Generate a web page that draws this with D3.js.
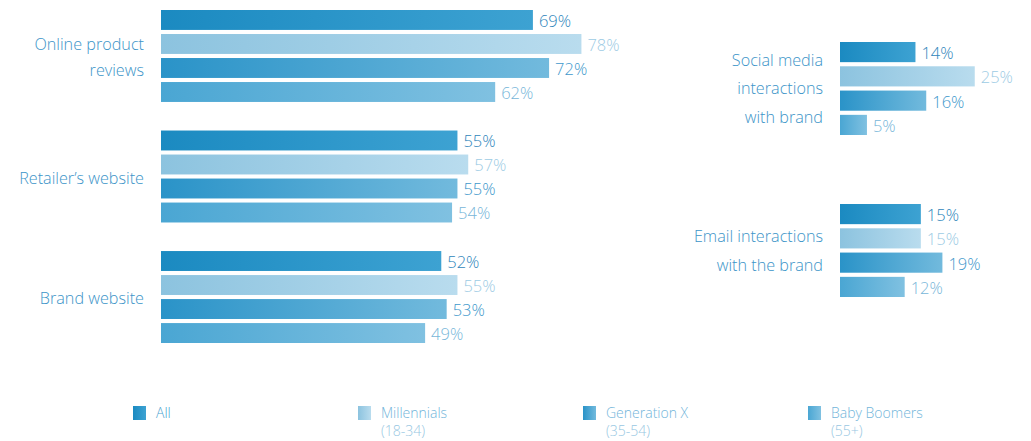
<!DOCTYPE html>
<html><head><meta charset="utf-8">
<script src="https://cdn.jsdelivr.net/npm/d3@7"></script>
<style>body{margin:0;background:#fff;}svg{display:block;font-family:"Open Sans",sans-serif;font-weight:300;}</style>
</head><body><svg id="c" width="1031" height="441"></svg>
<script>
const series = ["All", "Millennials", "Generation X", "Baby Boomers"];
const seriesSub = ["", "(18-34)", "(35-54)", "(55+)"];
const leftCategories = ["Online product reviews", "Retailer’s website", "Brand website"];
const leftLabelLines = [["Online product", "reviews"], ["Retailer’s website"], ["Brand website"]];
const leftValues = [
  [69, 78, 72, 62],
  [55, 57, 55, 54],
  [52, 55, 53, 49]
];
const rightCategories = ["Social media interactions with brand", "Email interactions with the brand"];
const rightLabelLines = [["Social media", "interactions", "with brand"], ["Email interactions", "with the brand"]];
const rightValues = [
  [14, 25, 16, 5],
  [15, 15, 19, 12]
];

const gradStops = [["#1b8ac1", "#3da2d2"], ["#8cc3df", "#b9dcee"], ["#2a93c8", "#72badd"], ["#4aa6d3", "#80c1e1"]];
const labelColors = ["#2f86bb", "#9dcbe4", "#4098cb", "#77b6d9"];
const catColor = "#3b94c8";

const svg = d3.select("#c");
const defs = svg.append("defs");
gradStops.forEach((s, i) => {
  const g = defs.append("linearGradient").attr("id", "g" + i).attr("x1", "0").attr("x2", "1").attr("y1", "0").attr("y2", "0");
  g.append("stop").attr("offset", "0").attr("stop-color", s[0]);
  g.append("stop").attr("offset", "1").attr("stop-color", s[1]);
});

function panel(cats, lines, vals, x0, yRange, groupPad, labelX, lineH, labelShift) {
  const x = d3.scaleLinear().domain([0, 100]).range([x0, x0 + 539]);
  const yG = d3.scaleBand().domain(cats).range(yRange).paddingInner(groupPad);
  const yS = d3.scaleBand().domain(series).range([0, yG.bandwidth()]).paddingInner(0.17);
  cats.forEach((c, ci) => {
    const g = svg.append("g").attr("transform", `translate(0,${yG(c)})`);
    series.forEach((s, si) => {
      const v = vals[ci][si];
      g.append("rect").attr("x", x(0)).attr("y", yS(s)).attr("width", x(v) - x(0)).attr("height", yS.bandwidth())
        .attr("fill", `url(#g${si})`);
      g.append("text").attr("x", x(v) + 6).attr("y", yS(s) + yS.bandwidth() / 2 + 1).attr("dy", "0.36em")
        .attr("font-size", 16.5).attr("fill", labelColors[si]).text(v + "%");
    });
    const cy = yG.bandwidth() / 2 + labelShift;
    const n = lines[ci].length;
    lines[ci].forEach((l, li) => {
      g.append("text").attr("x", labelX).attr("y", cy + (li - (n - 1) / 2) * lineH).attr("dy", "0.36em")
        .attr("text-anchor", "end").attr("font-size", 16.2).attr("fill", catColor).text(l);
    });
  });
}
panel(leftCategories, leftLabelLines, leftValues, 161, [10, 343], 0.237, 144, 26, 1.5);
panel(rightCategories, rightLabelLines, rightValues, 840, [42, 297], 0.426, 823, 28.5, 0);

// legend
const lx = d3.scalePoint().domain(series).range([133, 808]);
series.forEach((s, i) => {
  const g = svg.append("g").attr("transform", `translate(${lx(s)},406)`);
  g.append("rect").attr("width", 13).attr("height", 14).attr("fill", `url(#g${i})`);
  g.append("text").attr("x", 23).attr("y", 7).attr("dy", "0.36em").attr("font-size", 14)
    .attr("fill", i === 0 ? "#4a9fcf" : "#72b5da").text(s);
  if (seriesSub[i]) g.append("text").attr("x", 23).attr("y", 25).attr("dy", "0.36em").attr("font-size", 14)
    .attr("fill", "#98c7e2").text(seriesSub[i]);
});
</script></body></html>
